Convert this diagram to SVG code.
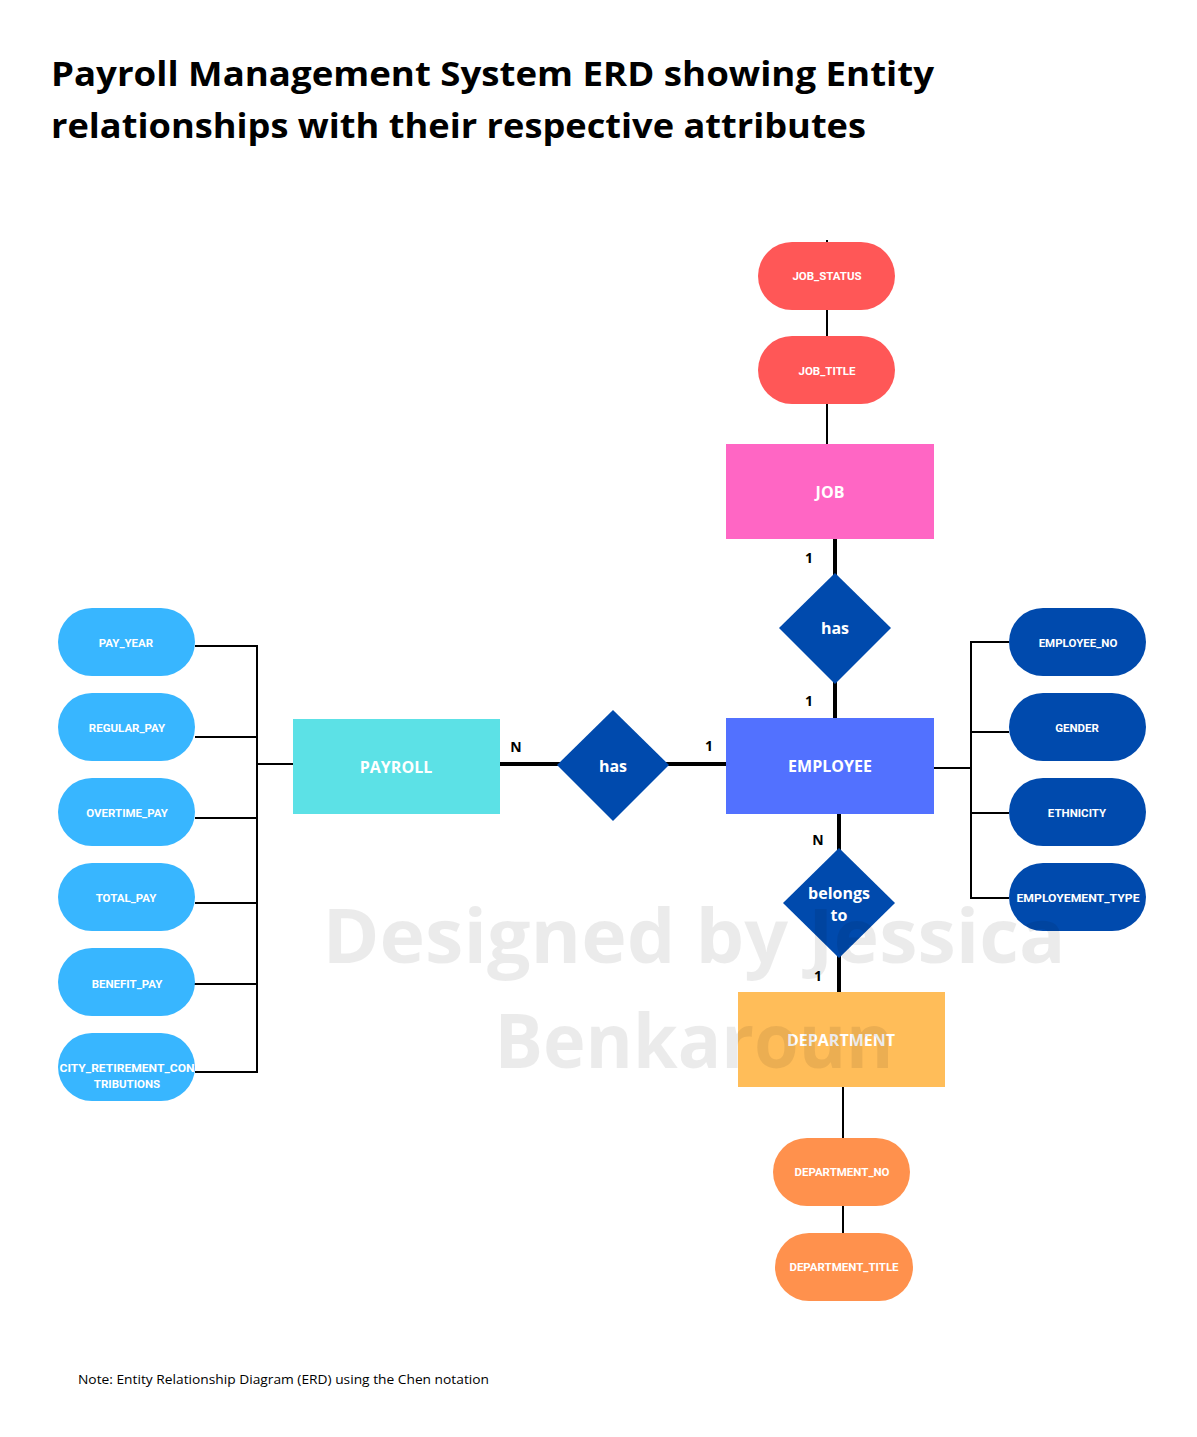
<svg xmlns="http://www.w3.org/2000/svg" width="1197" height="1437" viewBox="0 0 1197 1437">
<style>
.pt{font-family:Roboto,"Liberation Sans",sans-serif;font-weight:700;font-size:11.5px;fill:#fff;text-anchor:middle}
.et{font-family:"Open Sans","Noto Sans",sans-serif;font-weight:700;font-size:16px;fill:#fff;text-anchor:middle}
.dt{font-family:"Open Sans","Noto Sans",sans-serif;font-weight:700;font-size:16px;fill:#fff;text-anchor:middle}
.card{font-family:"Open Sans","Noto Sans",sans-serif;font-weight:700;font-size:14px;fill:#000;text-anchor:middle}
.thin{stroke:#000;stroke-width:2;fill:none}
.thick{stroke:#000;stroke-width:4;fill:none}
.lb{fill:#38B6FF}.db{fill:#004AAD}.red{fill:#FF5757}.org{fill:#FF914D}
</style>
<rect width="1197" height="1437" fill="#fff"/>
<text font-family="'Open Sans','Noto Sans',sans-serif" font-weight="700" font-size="34" fill="#000">
<tspan x="51" y="86" textLength="883" lengthAdjust="spacingAndGlyphs">Payroll Management System ERD showing Entity</tspan>
<tspan x="51" y="138" textLength="815" lengthAdjust="spacingAndGlyphs">relationships with their respective attributes</tspan>
</text>
<g id="connectors">
<line class="thin" x1="827" y1="240" x2="827" y2="444"/>
<line class="thick" x1="835" y1="539" x2="835" y2="718"/>
<line class="thick" x1="500" y1="764" x2="726" y2="764"/>
<line class="thick" x1="839" y1="814" x2="839" y2="992"/>
<line class="thin" x1="843" y1="1087" x2="843" y2="1233"/>
<polyline class="thin" points="195,646 257,646 257,1072 195,1072"/>
<line class="thin" x1="195" y1="737" x2="257" y2="737"/>
<line class="thin" x1="195" y1="818" x2="257" y2="818"/>
<line class="thin" x1="195" y1="903" x2="257" y2="903"/>
<line class="thin" x1="192" y1="984" x2="257" y2="984"/>
<line class="thin" x1="257" y1="764" x2="293" y2="764"/>
<polyline class="thin" points="1009,642 971,642 971,898 1009,898"/>
<line class="thin" x1="971" y1="732" x2="1009" y2="732"/>
<line class="thin" x1="971" y1="813" x2="1009" y2="813"/>
<line class="thin" x1="934" y1="768" x2="971" y2="768"/>
<text class="card" x="809" y="563">1</text>
<text class="card" x="809" y="706">1</text>
<text class="card" x="516" y="752">N</text>
<text class="card" x="709" y="751">1</text>
<text class="card" x="818" y="845">N</text>
<text class="card" x="818" y="981">1</text>
</g>
<g id="job_status"><rect class="red" x="758" y="242" width="137" height="68" rx="34"/><text class="pt" x="827" y="280">JOB_STATUS</text></g>
<g id="job_title"><rect class="red" x="758" y="336" width="137" height="68" rx="34"/><text class="pt" x="827" y="375">JOB_TITLE</text></g>
<g id="job"><rect x="726" y="444" width="208" height="95" fill="#FF66C4"/><text class="et" x="830" y="498">JOB</text></g>
<g id="has_job"><polygon points="835,573 891,628 835,684 779,628" fill="#004AAD"/><text class="dt" x="835" y="634">has</text></g>
<g id="employee"><rect x="726" y="718" width="208" height="96" fill="#5271FF"/><text class="et" x="830" y="772">EMPLOYEE</text></g>
<g id="has_payroll"><polygon points="613,710 669,765 613,821 557,765" fill="#004AAD"/><text class="dt" x="613" y="772">has</text></g>
<g id="payroll"><rect x="293" y="719" width="207" height="95" fill="#5CE1E6"/><text class="et" x="396" y="773">PAYROLL</text></g>
<g id="belongs_to"><polygon points="839,848 895,903 839,958 783,903" fill="#004AAD"/><text class="dt" x="839" y="899">belongs</text><text class="dt" x="839" y="921">to</text></g>
<g id="department"><rect x="738" y="992" width="207" height="95" fill="#FFBD59"/><text class="et" x="841" y="1046">DEPARTMENT</text></g>
<g id="department_no"><rect class="org" x="773" y="1138" width="137" height="68" rx="34"/><text class="pt" x="842" y="1176">DEPARTMENT_NO</text></g>
<g id="department_title"><rect class="org" x="775" y="1233" width="138" height="68" rx="34"/><text class="pt" x="844" y="1271">DEPARTMENT_TITLE</text></g>
<g id="pay_year"><rect class="lb" x="58" y="608" width="137" height="68" rx="34"/><text class="pt" x="126" y="647">PAY_YEAR</text></g>
<g id="regular_pay"><rect class="lb" x="58" y="693" width="137" height="68" rx="34"/><text class="pt" x="127" y="732">REGULAR_PAY</text></g>
<g id="overtime_pay"><rect class="lb" x="58" y="778" width="137" height="68" rx="34"/><text class="pt" x="127" y="817">OVERTIME_PAY</text></g>
<g id="total_pay"><rect class="lb" x="58" y="863" width="137" height="68" rx="34"/><text class="pt" x="126" y="902">TOTAL_PAY</text></g>
<g id="benefit_pay"><rect class="lb" x="58" y="948" width="137" height="68" rx="34"/><text class="pt" x="127" y="988">BENEFIT_PAY</text></g>
<g id="city_retirement"><rect class="lb" x="58" y="1033" width="137" height="68" rx="34"/><text class="pt" x="127" y="1072" textLength="135" lengthAdjust="spacingAndGlyphs">CITY_RETIREMENT_CON</text><text class="pt" x="127" y="1088">TRIBUTIONS</text></g>
<g id="employee_no"><rect class="db" x="1009" y="608" width="137" height="68" rx="34"/><text class="pt" x="1078" y="647">EMPLOYEE_NO</text></g>
<g id="gender"><rect class="db" x="1009" y="693" width="137" height="68" rx="34"/><text class="pt" x="1077" y="732">GENDER</text></g>
<g id="ethnicity"><rect class="db" x="1009" y="778" width="137" height="68" rx="34"/><text class="pt" x="1077" y="817">ETHNICITY</text></g>
<g id="employement_type"><rect class="db" x="1009" y="863" width="137" height="68" rx="34"/><text class="pt" x="1078" y="902" textLength="123" lengthAdjust="spacingAndGlyphs">EMPLOYEMENT_TYPE</text></g>
<g id="watermark" font-family="'Open Sans','Noto Sans',sans-serif" font-weight="700" font-size="76" fill="#000" fill-opacity="0.08" text-anchor="middle">
<text x="694" y="963" textLength="743" lengthAdjust="spacingAndGlyphs">Designed by Jessica</text>
<text x="694" y="1068" textLength="399" lengthAdjust="spacingAndGlyphs">Benkaroun</text>
</g>
<text x="78" y="1384" font-family="'Open Sans','Noto Sans',sans-serif" font-size="13" fill="#000" textLength="411" lengthAdjust="spacingAndGlyphs">Note: Entity Relationship Diagram (ERD) using the Chen notation</text>
</svg>
